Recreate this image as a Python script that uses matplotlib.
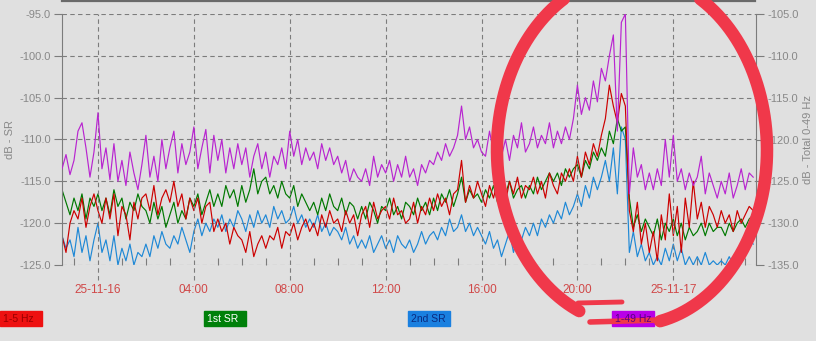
import numpy as np
import pandas as pd
import matplotlib
matplotlib.use('Agg')
import matplotlib.pyplot as plt
import matplotlib.dates as mdates
from matplotlib.ticker import FormatStrFormatter, FuncFormatter
from matplotlib.lines import Line2D
from matplotlib.patches import Rectangle

plt.rcParams['font.family'] = ['Liberation Sans', 'DejaVu Sans']
plt.rcParams['axes.unicode_minus'] = False

# one reading every 10 minutes, 22:30 on 15th -> 03:20 on 17th
times = pd.date_range('2025-11-15 22:30', periods=174, freq='10min')

# dB - SR (left axis)
red = [-121.5, -123.5, -120.0, -118.5, -119.5, -117.0, -120.5, -118.0, -116.5,
       -118.5, -120.0, -117.0, -119.5, -116.5, -121.5,
       -118.0, -119.0, -122.0, -117.5, -119.5, -117.0,
       -116.5, -118.5, -115.5, -119.0, -117.0, -116.0,
       -117.5, -115.0, -118.0, -116.5, -119.5, -117.0,
       -118.5, -117.0, -120.0, -118.0, -117.5, -121.0,
       -119.5, -121.0, -120.0, -122.5, -120.5, -121.5,
       -122.0, -123.5, -121.0, -124.0, -122.5, -121.5,
       -123.0, -121.5, -122.0, -120.5, -123.0, -121.0,
       -121.5, -120.0, -122.0, -120.5, -119.5, -121.0,
       -120.0, -121.5, -119.0, -120.5, -118.5, -120.0,
       -119.5, -121.0, -118.5, -120.0, -119.0, -121.5,
       -119.0, -118.0, -120.5, -117.5, -119.5, -118.5,
       -118.0, -119.5, -117.0, -119.0, -118.5, -120.0,
       -119.5, -117.5, -120.0, -118.0, -119.0, -117.0,
       -118.5, -116.5, -118.0, -117.0, -119.0, -116.5,
       -116.0, -112.5, -117.5, -115.5, -117.0, -115.0,
       -116.5, -118.0, -115.5, -117.0, -115.0, -116.5,
       -117.5, -115.0, -116.5, -114.5, -117.0, -115.5,
       -116.0, -114.5, -116.5, -115.0, -117.0, -114.0,
       -115.5, -116.5, -114.0, -115.0, -113.5, -115.0,
       -112.0, -114.5, -111.5, -113.0, -110.5, -112.0,
       -109.5, -107.5, -103.5, -106.0, -108.0, -104.5,
       -106.0, -118.5, -121.0, -117.5, -122.5, -120.0,
       -123.5, -121.0, -124.5, -119.0, -122.0, -116.5,
       -121.5, -118.0, -123.5, -117.0, -120.5, -115.0,
       -119.5, -117.5, -120.5, -118.0, -119.0, -120.5,
       -118.5, -120.0, -119.0, -121.0, -118.5, -120.0,
       -119.0, -118.0, -118.5]

green = [-116.0, -117.5, -119.0, -117.0, -118.5, -116.5, -119.5, -117.0, -118.0,
         -116.5, -118.5, -117.0, -119.0, -116.0, -118.0,
         -117.0, -119.5, -117.5, -118.5, -116.5, -118.0,
         -118.5, -120.0, -117.5, -119.5, -118.0, -120.5,
         -119.0, -117.5, -120.0, -118.5, -119.5, -117.0,
         -118.0, -116.5, -119.0, -117.5, -116.0, -118.0,
         -116.5, -118.0, -115.5, -117.0, -116.0, -118.0,
         -115.5, -117.5, -116.0, -113.5, -116.5, -115.0,
         -114.5, -116.5, -115.5, -117.0, -115.0, -116.5,
         -117.0, -115.5, -118.0, -116.5, -117.5, -118.5,
         -117.5, -119.0, -117.0, -118.5, -116.5, -118.0,
         -118.5, -117.0, -119.0, -117.5, -118.0, -119.5,
         -118.0, -119.5, -117.5, -118.5, -120.0, -118.0,
         -118.5, -117.0, -119.0, -118.0, -119.5, -117.5,
         -118.0, -119.0, -117.0, -118.5, -117.5, -119.0,
         -117.0, -118.5, -116.5, -117.5, -116.0, -118.0,
         -116.5, -114.5, -117.5, -116.0, -117.0, -116.5,
         -117.5, -116.0, -117.0, -115.5, -117.5, -116.0,
         -116.5, -115.0, -117.0, -116.0, -115.5, -117.0,
         -115.5, -116.5, -114.5, -116.0, -115.0, -114.0,
         -115.0, -114.0, -115.5, -113.5, -114.5, -113.5,
         -113.0, -114.5, -112.5, -113.5, -111.5, -112.5,
         -111.0, -112.0, -109.0, -110.5, -107.5, -109.0,
         -108.5, -117.0, -120.5, -119.0, -121.0, -119.5,
         -120.5, -121.5, -119.5, -122.0, -120.0, -121.0,
         -119.5, -121.5, -120.0, -122.0, -120.5, -121.5,
         -121.0, -120.0, -121.5, -120.0, -121.0, -120.5,
         -120.5, -121.5, -120.0, -121.0, -120.0, -119.5,
         -120.5, -119.5, -119.0]

blue = [-121.5, -123.0, -122.0, -124.0, -120.5, -123.5, -121.5, -124.5, -122.0,
        -120.0, -123.5, -122.0, -124.5, -121.5, -125.0,
        -123.0, -124.5, -122.5, -125.0, -123.5, -124.0,
        -122.5, -124.0, -121.5, -123.0, -121.0, -122.5,
        -123.0, -121.5, -122.5, -120.5, -122.0, -123.5,
        -121.0, -119.5, -121.5, -120.0, -121.0, -119.5,
        -120.5, -119.0, -121.0, -119.5, -120.5, -118.5,
        -119.5, -121.0, -119.0, -120.5, -118.5, -120.0,
        -119.0, -120.5, -118.0, -119.5, -118.5, -120.0,
        -119.5, -118.0, -120.0, -119.0, -120.5, -119.5,
        -120.5, -119.0, -121.0, -120.0, -121.5, -120.5,
        -121.0, -122.0, -120.5, -122.5, -121.5, -123.0,
        -122.0, -123.0, -121.5, -123.5, -122.5, -121.5,
        -123.0, -122.0, -123.5, -121.5, -122.5, -123.0,
        -122.0, -123.5, -122.5, -121.0, -122.5, -121.5,
        -121.0, -122.0, -120.5, -121.5, -119.5, -121.0,
        -120.5, -119.0, -121.0, -120.0, -121.5, -120.5,
        -121.5, -122.5, -121.0, -123.0, -122.0, -124.0,
        -122.5, -121.0, -123.5, -121.5, -122.0, -120.5,
        -121.5, -120.0, -121.5, -119.5, -120.5, -119.0,
        -120.0, -118.5, -119.5, -117.5, -119.0, -118.0,
        -116.5, -118.0, -115.5, -117.0, -114.5, -116.0,
        -114.5, -112.5, -115.0, -111.0, -116.5, -108.5,
        -110.0, -123.5, -121.0, -124.0, -122.5, -124.5,
        -123.5, -125.0, -124.0, -125.0, -123.0, -124.5,
        -122.5, -124.5, -123.0, -125.0, -124.0, -125.0,
        -124.0, -125.0, -123.5, -125.0, -124.5, -125.0,
        -124.5, -125.0, -124.0, -125.0, -123.5, -122.5,
        -123.5, -122.0, -122.5]

# dB - Total 0-49 Hz (right axis)
purple = [-123.5, -121.8, -124.2, -122.5, -119.0, -118.0, -121.0, -124.5, -121.5,
          -116.8, -123.5, -121.0, -124.8, -120.5, -125.0,
          -122.5, -125.5, -121.5, -124.0, -126.0, -123.0,
          -119.5, -124.5, -122.0, -125.0, -120.0, -123.5,
          -121.0, -119.0, -124.0, -120.5, -123.0, -121.5,
          -118.5, -123.5, -121.0, -118.8, -124.0, -119.5,
          -122.5, -120.0, -124.0, -121.0, -123.5, -120.5,
          -123.0, -121.0, -124.5, -122.0, -120.5, -123.5,
          -121.5, -124.5, -122.0, -123.0, -121.0, -123.5,
          -119.0, -122.0, -120.0, -123.0, -121.0, -122.5,
          -121.5, -123.5, -120.5, -122.5, -121.0, -123.0,
          -122.0, -124.0, -122.5, -125.0, -123.5, -124.5,
          -125.0, -123.5, -125.5, -122.0, -124.5, -123.0,
          -124.0, -122.5, -125.0, -123.0, -124.5, -122.0,
          -124.5, -123.5, -125.5, -123.0, -124.0, -122.5,
          -123.0, -121.5, -122.5, -120.5, -122.0, -121.0,
          -119.5, -116.0, -120.0, -118.5, -121.0, -120.0,
          -121.5, -122.0, -119.0, -121.5, -118.5, -122.0,
          -120.0, -122.5, -119.5, -121.0, -118.0, -121.5,
          -120.5, -118.5, -121.0, -119.5, -120.5, -118.0,
          -121.0, -119.0, -120.5, -118.5, -120.0, -117.5,
          -113.5, -117.0, -115.0, -116.5, -113.0, -115.5,
          -111.5, -113.0, -110.0, -107.5, -119.0, -106.0,
          -105.0, -126.5, -121.0, -124.5, -123.0, -126.0,
          -124.0, -126.0, -123.5, -125.5, -120.0, -124.5,
          -119.5, -125.0, -123.5, -126.0, -124.0, -125.5,
          -124.5, -122.0, -126.5, -124.0, -125.5, -127.0,
          -125.0, -126.5, -124.0, -127.0, -125.5, -123.5,
          -126.0, -124.0, -124.5]

names = ['1-5 Hz', '1st SR', '2nd SR', '1-49 Hz']

bg = '#e0e0e0'
c_red, c_green, c_blue, c_purple = '#cc0000', '#007800', '#1e88d6', '#b824d0'
gray = '#7c7c7c'
lab = '#888888'

W, H = 816, 341
def fx(x):
    return x / W
def fy(y):
    return 1 - y / H

fig = plt.figure(figsize=(8.16, 3.41), dpi=100, facecolor=bg)
ax = fig.add_axes([fx(62), fy(265), 694 / W, 251 / H])
ax.set_facecolor(bg)
ax.plot(times, blue, color=c_blue, lw=0.85)
ax.plot(times, green, color=c_green, lw=0.85)
ax.plot(times, red, color=c_red, lw=0.85)
ax.set_ylim(-125, -95)
ax.set_xlim(times[0], pd.Timestamp('2025-11-17 03:27'))
ax.set_yticks(np.arange(-125, -94, 5))
ax.yaxis.set_major_formatter(FormatStrFormatter('%.1f'))
ax.yaxis.grid(True, ls=(0, (4, 3)), color=gray, lw=0.8)

ax.xaxis.set_major_locator(mdates.HourLocator(byhour=[0, 4, 8, 12, 16, 20]))
ax.xaxis.set_minor_locator(mdates.HourLocator())
def tfmt(v, pos):
    d = mdates.num2date(v)
    return d.strftime('%y-%m-%d') if d.hour == 0 else d.strftime('%H:%M')
ax.xaxis.set_major_formatter(FuncFormatter(tfmt))
ax.tick_params(axis='x', which='major', length=0, pad=14, labelsize=8.5, labelcolor='#d04848')
ax.tick_params(axis='x', which='minor', direction='in', length=5, color=gray, width=0.8)
ax.tick_params(axis='y', length=6, color=gray, labelsize=8, labelcolor=lab, pad=2)

# dashed hour lines, running a little below the axis
for t in pd.date_range('2025-11-16 00:00', '2025-11-17 00:00', freq='4h'):
    ax.axvline(t, ymin=-0.06, ymax=1, clip_on=False, ls=(0, (4, 3)), color=gray, lw=0.8)

for s in ['top', 'bottom', 'right']:
    ax.spines[s].set_visible(False)
ax.spines['left'].set_color(gray)
ax.set_ylabel('dB - SR', color=lab, fontsize=8)
ax.yaxis.set_label_coords((15 - 62) / 694, 0.5)

ax2 = ax.twinx()
ax2.plot(times, purple, color=c_purple, lw=0.85)
ax2.set_ylim(-135, -105)
ax2.set_yticks(np.arange(-135, -104, 5))
ax2.yaxis.set_major_formatter(FormatStrFormatter('%.1f'))
ax2.tick_params(axis='y', length=6, color=gray, labelsize=8, labelcolor=lab, pad=2)
for s in ['top', 'bottom', 'left']:
    ax2.spines[s].set_visible(False)
ax2.spines['right'].set_color(gray)
ax2.set_ylabel('dB - Total 0-49 Hz', color=lab, fontsize=8)
ax2.yaxis.set_label_coords((803 - 62) / 694, 0.5)

# top frame line
fig.add_artist(Line2D([fx(62), fx(755)], [fy(0.8), fy(0.8)], color='#6a6a6a', lw=1.6))

# legend boxes at the bottom
box_x = [0, 204, 408, 612]
box_c = ['#ee1111', '#00800a', '#1a80e0', '#b800e8']
txt_c = ['#990000', '#ffffff', '#0a2a80', '#5a0080']
for x0, name, bc, tc in zip(box_x, names, box_c, txt_c):
    fig.add_artist(Rectangle((fx(x0), fy(326)), 42 / W, 15 / H, color=bc,
                             transform=fig.transFigure))
    fig.text(fx(x0 + 3), fy(318.5), name, color=tc, fontsize=7.5, va='center', ha='left')

# hand-drawn red circle around the spike
th = np.radians(np.linspace(282, 607, 300))
ex = 632 + 135 * np.cos(th)
ey = 150 - 175 * np.sin(th)
fig.add_artist(Line2D(fx(ex), fy(ey), color='#f0384a', lw=9, solid_capstyle='round'))
fig.add_artist(Line2D([fx(578), fx(622)], [fy(303), fy(302)], color='#f0384a', lw=3.5,
                      solid_capstyle='round'))
fig.add_artist(Line2D([fx(590), fx(660)], [fy(322), fy(320)], color='#f0384a', lw=4,
                      solid_capstyle='round'))

fig.savefig('out.png', dpi=100, facecolor=bg)
